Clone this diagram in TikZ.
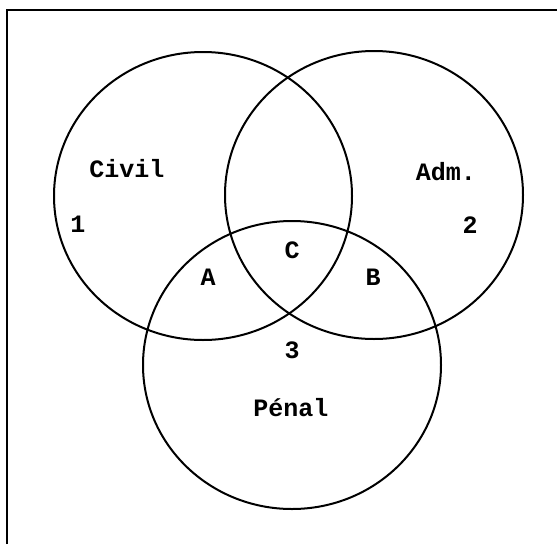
\documentclass[tikz,border=0pt]{standalone}
\usepackage{fontspec}
\setmonofont{Liberation Mono}
\usetikzlibrary{shapes.geometric}
\tikzset{
  setring/.style={draw=black, line width=2pt, ellipse, inner sep=0pt, minimum width=298pt, minimum height=288pt},
  lbl/.style={font=\ttfamily\bfseries\fontsize{25}{28}\selectfont, inner sep=0pt, text=black},
  framelin/.style={line width=2pt, black}
}
\begin{document}
\begin{tikzpicture}[x=1pt,y=-1pt]
\useasboundingbox (0,0) rectangle (557,544);
% frame (left and top edges)
\coordinate (fbl) at (7,544);
\coordinate (ftl) at (7,10);
\coordinate (ftr) at (557,10);
\draw[framelin] (fbl) -- (ftl) -- (ftr);
% sets
\node[setring] (civil) at (203,196) {};
\node[setring] (adm) at (374,195) {};
\node[setring] (penal) at (292,365) {};
% labels
\node[lbl] (tcivil) at (127,169) {Civil};
\node[lbl] (t1) at (78,224) {1};
\node[lbl] (tadm) at (446,172) {Adm.};
\node[lbl] (t2) at (470,225) {2};
\node[lbl] (tC) at (292,250) {C};
\node[lbl] (tA) at (208,277) {A};
\node[lbl] (tB) at (373,277) {B};
\node[lbl] (t3) at (292,350) {3};
\node[lbl] (tpenal) at (291,408) {Pénal};
\end{tikzpicture}
\end{document}
